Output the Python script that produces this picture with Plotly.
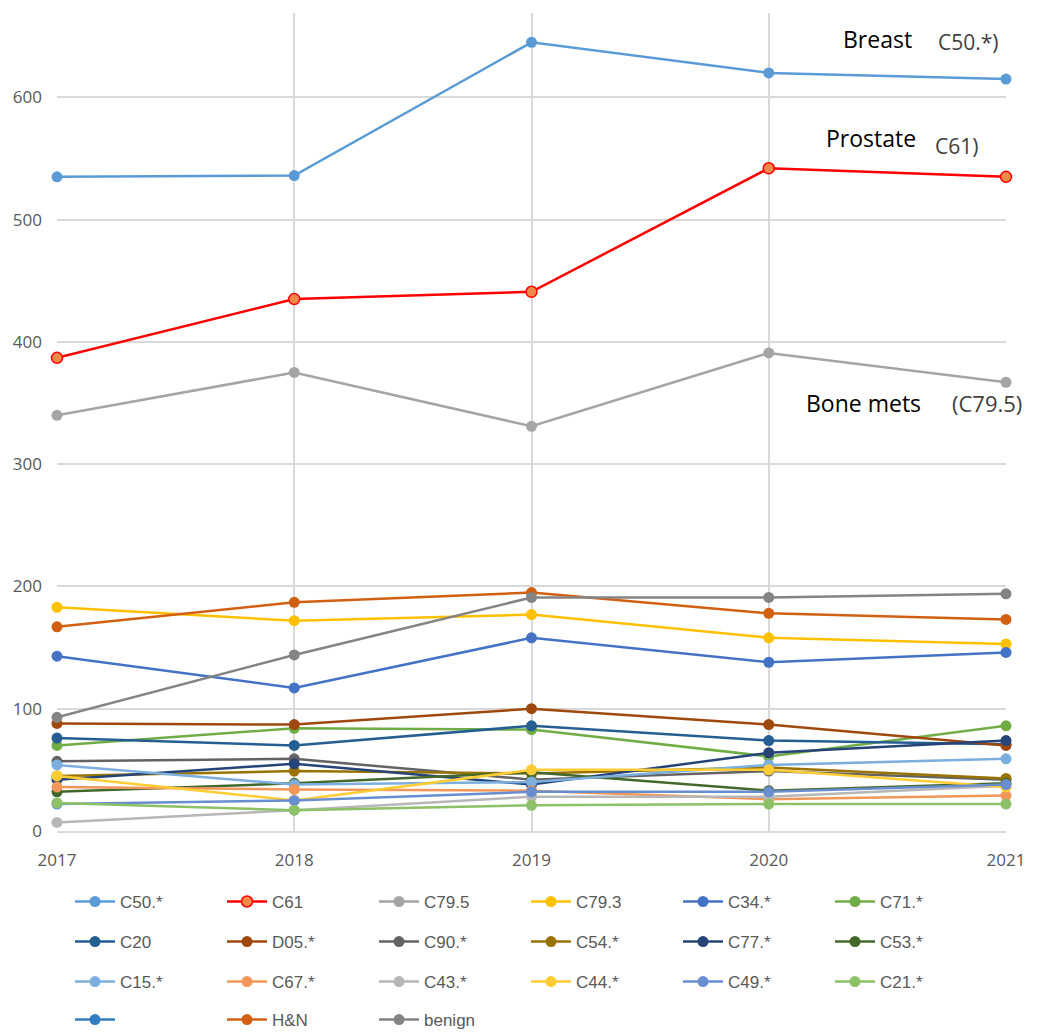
import plotly.graph_objects as go

# --------------------
# Data
# --------------------
YEARS = [2017, 2018, 2019, 2020, 2021]

C50 = [535, 536, 645, 620, 615]
C61 = [387, 435, 441, 542, 535]
C79_5 = [340, 375, 331, 391, 367]
C79_3 = [183, 172, 177, 158, 153]
C34 = [143, 117, 158, 138, 146]
C71 = [70, 84, 83, 61, 86]
C20 = [76, 70, 86, 74, 71]
D05 = [88, 87, 100, 87, 70]
C90 = [57, 59, 42, 49, 42]
C54 = [45, 49, 47, 52, 43]
C77 = [42, 55, 38, 64, 74]
C53 = [32, 39, 48, 33, 39]
C15 = [54, 38, 40, 54, 59]
C67 = [36, 34, 33, 26, 29]
C43 = [7, 17, 28, 28, 37]
C44 = [45, 25, 50, 50, 36]
C49 = [22, 25, 32, 32, 38]
C21 = [23, 17, 21, 22, 22]
UNNAMED = [None, None, None, None, None]
HN = [167, 187, 195, 178, 173]
BENIGN = [93, 144, 191, 191, 194]

SERIES = [
    ("C50.*", C50, "#5B9BD5"),
    ("C61", C61, "#FF0000"),
    ("C79.5", C79_5, "#A5A5A5"),
    ("C79.3", C79_3, "#FFC000"),
    ("C34.*", C34, "#4472C4"),
    ("C71.*", C71, "#70AD47"),
    ("C20", C20, "#255E91"),
    ("D05.*", D05, "#9E480E"),
    ("C90.*", C90, "#636363"),
    ("C54.*", C54, "#997300"),
    ("C77.*", C77, "#264478"),
    ("C53.*", C53, "#43682B"),
    ("C15.*", C15, "#7CAFDD"),
    ("C67.*", C67, "#F1975A"),
    ("C43.*", C43, "#B7B7B7"),
    ("C44.*", C44, "#FFCD33"),
    ("C49.*", C49, "#698ED0"),
    ("C21.*", C21, "#8CC168"),
    ("", UNNAMED, "#327DC2"),
    ("H&N", HN, "#D26012"),
    ("benign", BENIGN, "#848484"),
]

LABELS = [
    # text, x, y, size, colour
    ("Breast", 2020.46, 648, 23, "black"),
    ("C50.*)", 2020.84, 645, 21, "#404040"),
    ("Prostate", 2020.43, 567, 23, "black"),
    ("C61)", 2020.79, 560, 21, "#404040"),
    ("Bone mets", 2020.40, 350, 23, "black"),
    ("(C79.5)", 2020.92, 350, 22, "#404040"),
]

# legend rows (6 entries per row, one legend per row), container coords
PER_ROW = 6
ROW_Y = [0.1287, 0.0897, 0.0507, 0.0136]
LEGEND_IDS = ["legend", "legend2", "legend3", "legend4"]

fig = go.Figure()
for i, (name, vals, color) in enumerate(SERIES):
    marker = dict(size=11, color=color)
    if name == "C61":
        marker = dict(size=11, color="#F08A4B", line=dict(color="#FF0000", width=1.5))
    fig.add_trace(go.Scatter(
        x=YEARS, y=vals, name=name,
        mode="lines+markers",
        line=dict(color=color, width=2.5),
        marker=marker,
        cliponaxis=False,
        legend=LEGEND_IDS[i // PER_ROW],
    ))

for text, x, y, size, color in LABELS:
    fig.add_annotation(
        x=x, y=y, text=text, showarrow=False,
        xanchor="center", yanchor="middle",
        font=dict(family="Open Sans", size=size, color=color),
    )

legend_style = dict(
    orientation="h",
    xref="container", yref="container",
    x=0.0602, xanchor="left",
    yanchor="middle",
    entrywidth=97, entrywidthmode="pixels",
    font=dict(family="Liberation Sans", size=17, color="#595959"),
    itemwidth=40,
    bgcolor="rgba(0,0,0,0)",
)
legends = {}
for lid, ry in zip(LEGEND_IDS, ROW_Y):
    legends[lid] = dict(legend_style, y=ry)

# page body adds an 8px offset, so the figure is 8px smaller than the window
fig.update_layout(
    width=1030, height=1026,
    margin=dict(l=49, r=32, t=5, b=203),
    plot_bgcolor="white",
    paper_bgcolor="white",
    font=dict(family="Open Sans", color="#595959"),
    showlegend=True,
    **legends,
)
fig.update_xaxes(
    range=[2017, 2021],
    tickvals=YEARS,
    ticktext=[str(y) for y in YEARS],
    showgrid=True, gridcolor="#D9D9D9", gridwidth=1.5,
    showline=True, linecolor="#D9D9D9", linewidth=1.5,
    zeroline=False, automargin=False,
    tickfont=dict(size=17, color="#595959"),
    ticks="", ticklen=0,
    ticklabelstandoff=13,
)
fig.update_yaxes(
    range=[0, 669],
    tickvals=[0, 100, 200, 300, 400, 500, 600],
    showgrid=True, gridcolor="#D9D9D9", gridwidth=1.5,
    zeroline=False, showline=False, automargin=False,
    tickfont=dict(size=17, color="#595959"),
    ticks="", ticklen=0,
    ticklabelstandoff=14,
)

fig.write_html("out.html")
